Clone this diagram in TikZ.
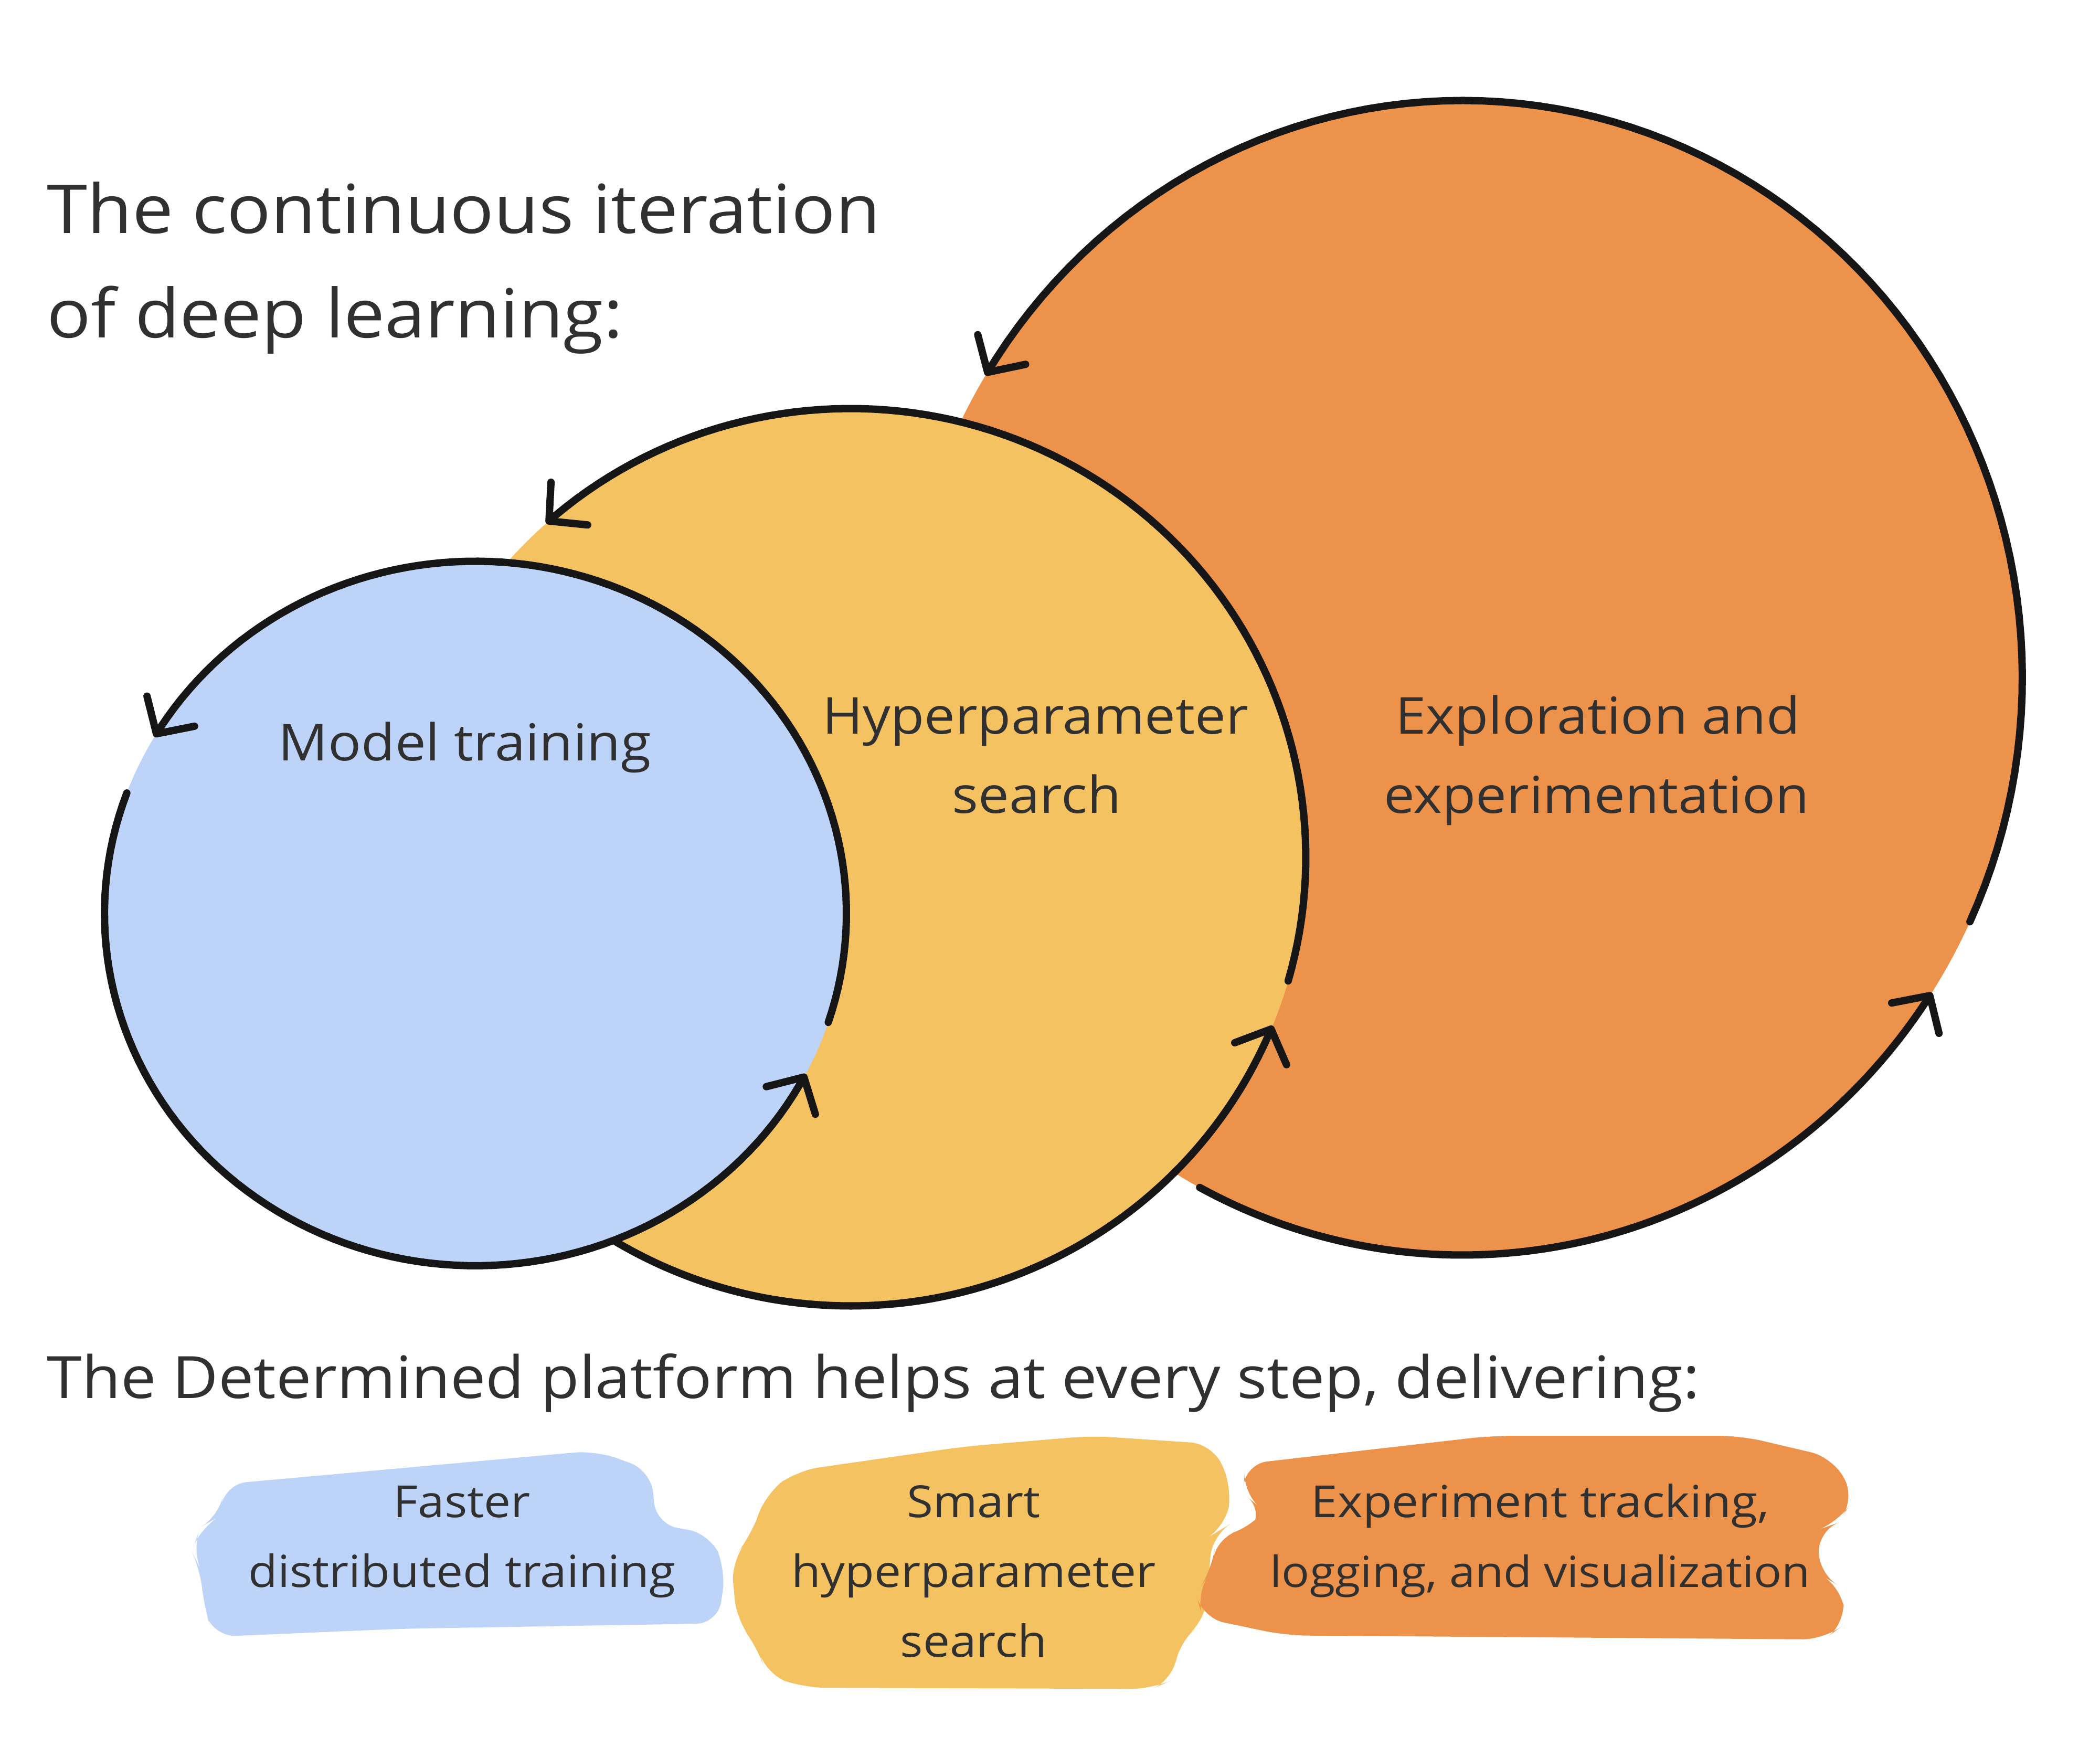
\documentclass[tikz,border=0pt]{standalone}
\usepackage{fontspec}
\setmainfont{Open Sans}[FakeStretch=1.08]
\usetikzlibrary{arrows.meta}
\definecolor{cblue}{HTML}{BED3F8}
\definecolor{cyellow}{HTML}{F5C262}
\definecolor{corange}{HTML}{EC924A}
\definecolor{ink}{HTML}{161616}
\definecolor{txtc}{HTML}{303030}
\begin{document}
\begin{tikzpicture}[x=1pt,y=-1pt,
  pen/.style={draw=ink,line width=5.5pt,line cap=round,line join=round},
  arr/.style={pen,-{Straight Barb[length=20pt,width=42pt,round]}},
  lbl/.style={inner sep=0pt,text=txtc,anchor=base},
  titletxt/.style={lbl,anchor=base west,font=\fontsize{50.5}{60}\selectfont},
  circtxt/.style={lbl,font=\fontsize{38}{44}\selectfont},
  senttxt/.style={lbl,anchor=base west,font=\fontsize{43.6}{50}\selectfont},
  blobtxt/.style={lbl,font=\fontsize{33}{40}\selectfont},
  blob/.style={rounded corners=16pt}
]
\fill[white] (0,0) rectangle (1568,1304);
\useasboundingbox (0,0) rectangle (1568,1304);

% circle fills
\coordinate (co) at (1092,506);
\coordinate (cy) at (635,640);
\coordinate (cb) at (355,682);
\fill[corange] (co) ellipse [x radius=418pt, y radius=431pt];
\fill[cyellow] (cy) ellipse [x radius=340pt, y radius=335pt];
\fill[cblue] (cb) ellipse [x radius=277pt, y radius=263pt];

% blue strokes
\draw[arr] plot[domain=0:1,samples=90,variable=\t] ({355+277*cos(18-168*\t)},{682+263*sin(18-168*\t)});
\draw[arr] plot[domain=0:1,samples=90,variable=\t] ({355+277*cos(200-173*\t)},{682+263*sin(200-173*\t)});
% yellow strokes
\draw[arr] plot[domain=0:1,samples=90,variable=\t] ({635+340*cos(16-148*\t)},{640+335*sin(16-148*\t)});
\draw[arr] plot[domain=0:1,samples=90,variable=\t] ({635+340*cos(121-99*\t)},{640+335*sin(121-99*\t)});
% orange strokes
\draw[arr] plot[domain=0:1,samples=90,variable=\t] ({1092+418*cos(25-173.5*\t)},{506+431*sin(25-173.5*\t)});
\draw[arr] plot[domain=0:1,samples=90,variable=\t] ({1092+418*cos(118-85*\t)},{506+431*sin(118-85*\t)});

% titles
\node[titletxt] (t1) at (35,174) {The continuous iteration};
\node[titletxt] (t2) at (35,252) {of deep learning:};

% circle labels
\node[circtxt] (mt) at (347,568) {Model training};
\node[circtxt] (hp1) at (773,548) {Hyperparameter};
\node[circtxt] (hp2) at (774,607) {search};
\node[circtxt] (ex1) at (1193,548) {Exploration and};
\node[circtxt] (ex2) at (1192,607) {experimentation};

% sentence
\node[senttxt] (sent) at (35,1044) {The Determined platform helps at every step, delivering:};

% blobs
\fill[cblue,blob] (168,1108) -- (445,1083) -- (486,1098) -- (490,1138) -- (530,1145) -- (542,1172) -- (536,1212) -- (300,1216) -- (160,1222) -- (152,1200) -- (150,1172) -- (143,1158) -- (150,1140) -- (164,1132) -- cycle;
\fill[cyellow,blob] (595,1098) -- (720,1080) -- (815,1072) -- (905,1078) -- (920,1110) -- (915,1140) -- (905,1146) -- (900,1210) -- (880,1226) -- (876,1254) -- (860,1261) -- (600,1260) -- (572,1250) -- (566,1230) -- (550,1210) -- (546,1165) -- (560,1148) -- (572,1115) -- cycle;
\fill[corange,blob] (930,1093) -- (1113,1072) -- (1300,1072) -- (1368,1088) -- (1385,1118) -- (1372,1137) -- (1358,1142) -- (1358,1175) -- (1375,1185) -- (1378,1212) -- (1362,1224) -- (960,1221) -- (898,1208) -- (893,1190) -- (905,1172) -- (908,1148) -- (935,1140) -- (944,1128) -- (928,1115) -- cycle;

% blob texts
\node[blobtxt] (b1a) at (345,1133) {Faster};
\node[blobtxt] (b1b) at (345,1185) {distributed training};
\node[blobtxt] (b2a) at (727,1133) {Smart};
\node[blobtxt] (b2b) at (727,1185) {hyperparameter};
\node[blobtxt] (b2c) at (727,1237) {search};
\node[blobtxt] (b3a) at (1150,1133) {Experiment tracking,};
\node[blobtxt,font=\fontsize{32}{40}\selectfont] (b3b) at (1150,1185) {logging, and visualization};
\end{tikzpicture}
\end{document}
